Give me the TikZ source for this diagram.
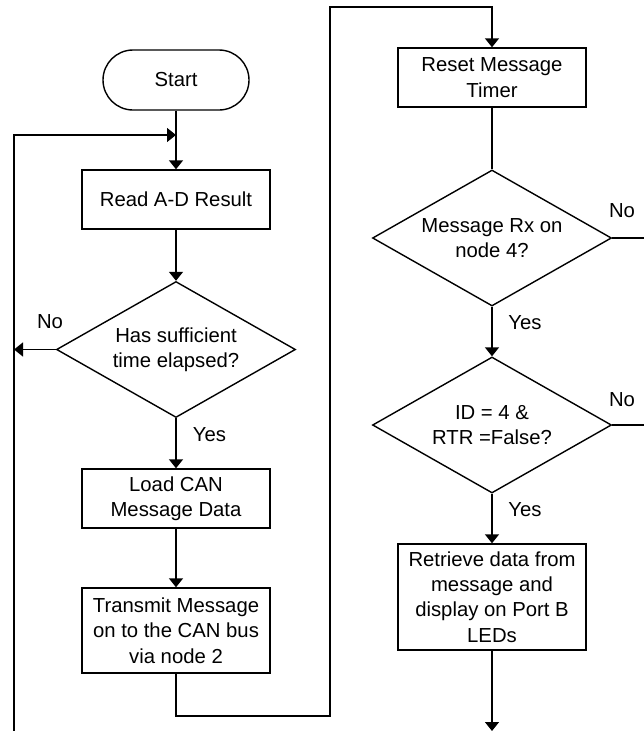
\documentclass[tikz,border=0pt]{standalone}
\usepackage{fontspec}
\setmainfont{Liberation Sans}
\usetikzlibrary{arrows.meta,shapes.geometric}

\begin{document}
\begin{tikzpicture}[x=1pt,y=-1pt,
  line width=1.4pt,
  every node/.style={font=\fontsize{20.3}{25.3}\selectfont, align=center, inner sep=0pt},
  procbox/.style={draw, rectangle, minimum width=188pt},
  termbox/.style={draw, rectangle, rounded corners=30pt, minimum width=146pt, minimum height=60pt},
  decision/.style={draw, diamond, aspect=1.76, minimum width=239pt, minimum height=136pt},
  arr/.style={-{Triangle[length=9pt,width=14pt]}},
  lbl/.style={inner sep=0pt}
]
\useasboundingbox (0,0) rectangle (644,731);

% left column
\node[termbox]  (start) at (176,80)    {Start};
\node[procbox, minimum height=59pt] (read) at (176,199.5) {Read A-D Result};
\node[decision] (timeq) at (176,349.5) {Has sufficient\\time elapsed?};
\node[procbox, minimum height=59pt] (load) at (176,498.5) {Load CAN\\Message Data};
\node[procbox, minimum height=85pt] (tx)   at (176,630.5) {Transmit Message\\on to the CAN bus\\via node 2};

% right column
\node[procbox, minimum height=59pt] (reset) at (492,77.5) {Reset Message\\Timer};
\node[decision] (rxq) at (492,238) {Message Rx on\\node 4?};
\node[decision] (idq) at (492,425) {ID = 4 \&\\RTR =False?};
\node[procbox, minimum height=106pt] (get) at (492,597) {Retrieve data from\\message and\\display on Port B\\LEDs};

% free ends and bends
\coordinate (loopbot) at (14,731);
\coordinate (looptop) at (14,135);
\coordinate (join)    at (176,135);
\coordinate (nohit)   at (14,349.5);
\coordinate (txb)     at (176,716);
\coordinate (txr)     at (330,716);
\coordinate (upt)     at (330,7);
\coordinate (upr)     at (492,7);
\coordinate (rxout)   at (644,238);
\coordinate (idout)   at (644,425);
\coordinate (getout)  at (492,731);

% connectors, left column
\draw (start) -- (join);
\draw[arr] (join) -- (read);
\draw[arr] (loopbot) -- (looptop) -- (join);
\draw[arr] (read) -- (timeq);
\draw[arr] (timeq.west) -- (nohit);
\draw[arr] (timeq) -- (load);
\draw[arr] (load) -- (tx);
\draw[arr] (tx.south) -- (txb) -- (txr) -- (upt) -- (upr) -- (reset.north);

% connectors, right column
\draw (reset) -- (rxq);
\draw (rxq.east) -- (rxout);
\draw[arr] (rxq) -- (idq);
\draw (idq.east) -- (idout);
\draw[arr] (idq) -- (get);
\draw[arr] (get) -- (getout);

% branch labels
\node[lbl] (no1)  at (50,321.5)  {No};
\node[lbl] (yes1) at (209.5,434.5) {Yes};
\node[lbl] (no2)  at (622,211)   {No};
\node[lbl] (yes2) at (525,323)   {Yes};
\node[lbl] (no3)  at (622,400)   {No};
\node[lbl] (yes3) at (525,509.5) {Yes};
\end{tikzpicture}
\end{document}
